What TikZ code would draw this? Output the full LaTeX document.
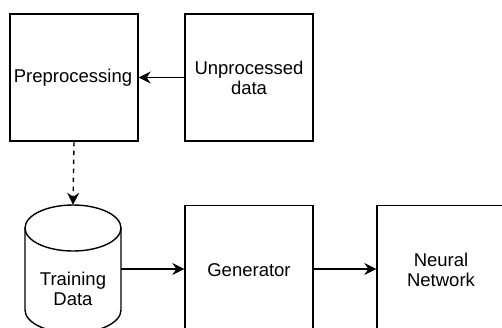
\documentclass[tikz,border=0pt]{standalone}
\usepackage{fontspec}
\setmainfont{Liberation Sans}
\usetikzlibrary{arrows.meta}
\begin{document}
\begin{tikzpicture}[x=1pt,y=-1pt,
  box/.style={draw, line width=1.4pt, minimum width=128pt, minimum height=127pt, inner sep=0pt},
  lbl/.style={font=\fontsize{18.5}{20.5}\selectfont, align=center, inner sep=0pt},
  link/.style={line width=1.4pt, -{Stealth[length=12pt,width=12pt,inset=4pt]}},
  dashlink/.style={link, dash pattern=on 4.5pt off 4.5pt}]
  \useasboundingbox (0,0) rectangle (502,327);
  \clip (0,0) rectangle (502,327);
  \fill[white] (0,0) rectangle (502,327);

  % top row
  \node[box] (pre) at (74,77.5) {};
  \node[lbl] (prel) at (73,78) {Preprocessing};
  \node[box] (raw) at (249,77.5) {};
  \node[lbl] (rawl) at (249,78) {Unprocessed\\data};

  % training data store (cylinder)
  \draw[line width=1.4pt, fill=white]
    (25,228) -- (25,310) arc[start angle=180, end angle=0, x radius=48, y radius=23]
    -- (121,228);
  \draw[line width=1.4pt] (73,228) ellipse[x radius=48, y radius=23];
  \node[minimum width=96pt, minimum height=128pt, inner sep=0pt] (train) at (73,269) {};
  \node[lbl] (trainl) at (73,289) {Training\\Data};

  % bottom row
  \node[box] (gen) at (249,269) {};
  \node[lbl] (genl) at (249,270) {Generator};
  \node[box] (net) at (441,269) {};
  \node[lbl] (netl) at (441,270) {Neural\\Network};

  % connectors
  \draw[link] (raw.west) -- (pre.east);
  \draw[dashlink] (pre.south) -- (train.north);
  \draw[link] (train.east) -- (gen.west);
  \draw[link] (gen.east) -- (net.west);
\end{tikzpicture}
\end{document}
